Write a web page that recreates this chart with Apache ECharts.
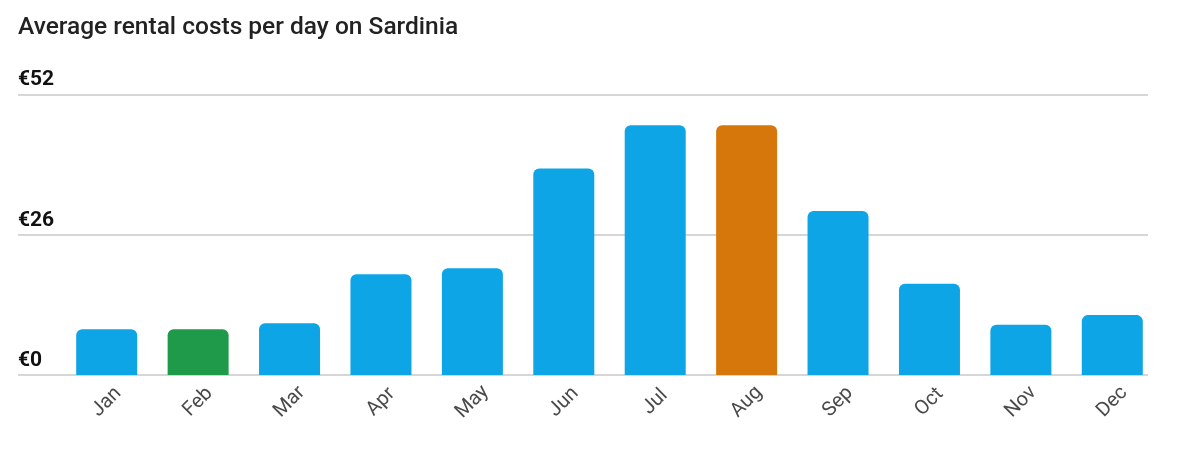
<!DOCTYPE html>
<html style="height: 100%">
<head>
    <meta charset="utf-8">
    <title>Average rental costs per day on Sardinia</title>
    <script src="https://cdn.jsdelivr.net/npm/echarts@6/dist/echarts.min.js"></script>
</head>
<body style="height: 100%; margin: 0; background: #fff">
<div id="main" style="width: 1200px; height: 454px"></div>
<script type="text/javascript">

    // data
    var months = ['Jan', 'Feb', 'Mar', 'Apr', 'May', 'Jun', 'Jul', 'Aug', 'Sep', 'Oct', 'Nov', 'Dec'];
    var costs = [8.5, 8.5, 9.6, 18.7, 19.8, 38.3, 46.3, 46.3, 30.4, 16.9, 9.3, 11.1];
    var yTicks = [0, 26, 52];
    var cheapest = 'Feb';
    var priciest = 'Aug';

    var blue = '#0ea5e6', green = '#1f9a4b', orange = '#d5770a';

    var myChart = echarts.init(document.getElementById('main'));

    option = {
        backgroundColor: '#fff',
        animation: false,
        title: {
            text: 'Average rental costs per day on Sardinia',
            left: 18,
            top: 15,
            padding: 0,
            textStyle: {
                fontFamily: 'Roboto',
                fontSize: 24.5,
                fontWeight: 500,
                color: '#222'
            }
        },
        grid: [
            // wide grid only for the horizontal rules and € labels
            { left: 18, right: 52, top: 94.5, bottom: 79 },
            // grid holding the bars
            { left: 61, right: 42, top: 94.5, bottom: 79 }
        ],
        xAxis: [
            { gridIndex: 0, type: 'category', data: months, show: false },
            {
                gridIndex: 1,
                type: 'category',
                data: months,
                axisLine: { show: false },
                axisTick: { show: false },
                axisLabel: {
                    rotate: 45,
                    align: 'center',
                    verticalAlign: 'middle',
                    margin: 27,
                    fontFamily: 'Roboto',
                    fontSize: 20,
                    color: '#4a4a4a'
                }
            }
        ],
        yAxis: [
            {
                gridIndex: 0,
                type: 'value',
                min: yTicks[0],
                max: yTicks[yTicks.length - 1],
                interval: yTicks[1] - yTicks[0],
                axisLine: { show: false },
                axisTick: { show: false },
                splitLine: { lineStyle: { color: '#c9c9c9', width: 1.5 } },
                axisLabel: {
                    inside: true,
                    margin: 0,
                    align: 'left',
                    verticalAlign: 'bottom',
                    padding: [0, 0, 4, 0],
                    formatter: '€{value}',
                    fontFamily: 'Roboto',
                    fontSize: 21,
                    fontWeight: 'bold',
                    color: '#111'
                }
            },
            {
                gridIndex: 1,
                type: 'value',
                min: yTicks[0],
                max: yTicks[yTicks.length - 1],
                show: false
            }
        ],
        series: [
            {
                type: 'bar',
                xAxisIndex: 1,
                yAxisIndex: 1,
                barWidth: 61,
                data: costs.map(function (v, i) {
                    var c = blue;
                    if (months[i] === cheapest) c = green;
                    if (months[i] === priciest) c = orange;
                    return { value: v, itemStyle: { color: c } };
                }),
                itemStyle: { borderRadius: [6, 6, 0, 0] }
            }
        ]
    };

    myChart.setOption(option);
</script>
</body>
</html>
